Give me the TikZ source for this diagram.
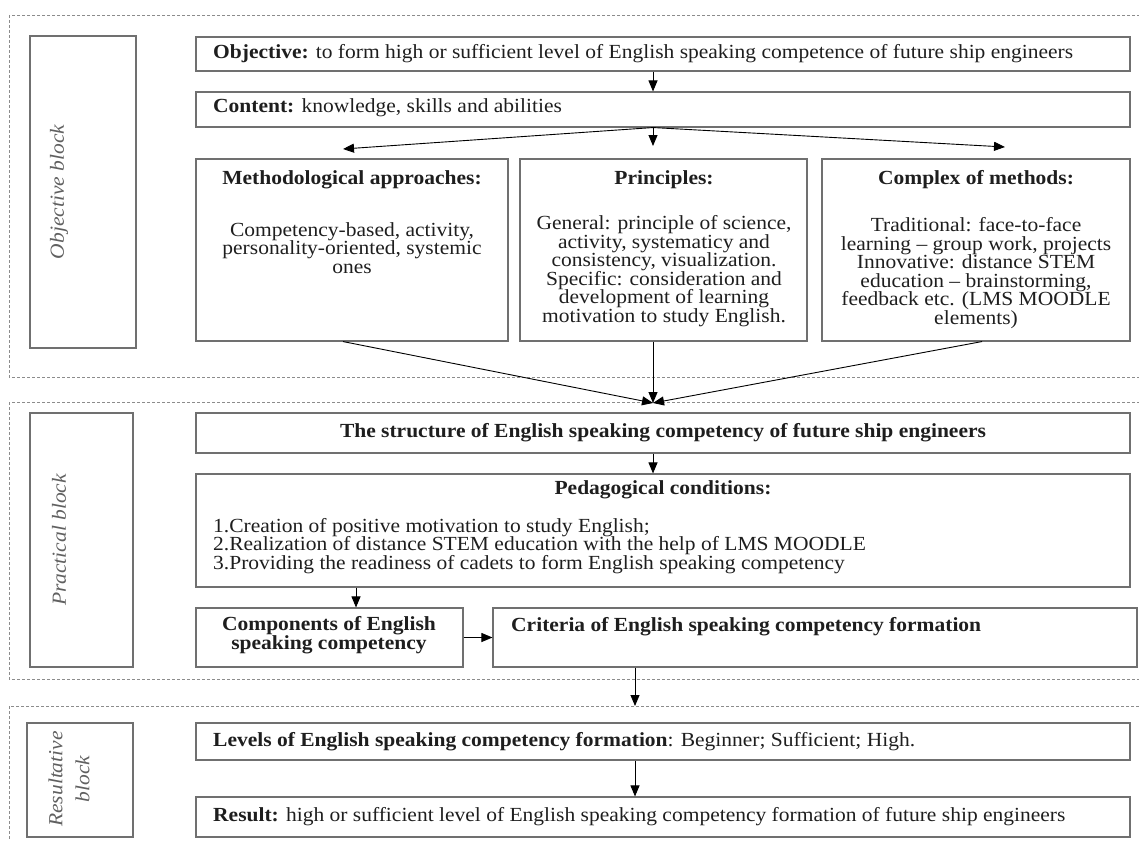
\documentclass[tikz,border=0pt]{standalone}
\usepackage{fontspec}
\setmainfont[FakeStretch=1.075]{Liberation Serif}
\usetikzlibrary{arrows.meta,fit}
\definecolor{bord}{HTML}{707070}
\definecolor{txtc}{HTML}{1E1E1E}
\definecolor{labc}{HTML}{606060}
\begin{document}
\begin{tikzpicture}[x=1pt,y=-1pt,
  box/.style={draw=bord, line width=1.1pt, inner sep=0pt},
  zone/.style={draw=black!45, line width=0.7pt, dash pattern=on 3pt off 2pt},
  txt/.style={inner sep=0pt, text=txtc, font=\fontsize{20}{18.5}\selectfont},
  btxt/.style={txt, font=\fontsize{20}{18.5}\selectfont\bfseries},
  lab/.style={inner sep=0pt, text=labc, font=\fontsize{20}{27}\selectfont\itshape, rotate=90},
  arr/.style={-{Triangle[length=11pt,width=9pt]}, line width=0.9pt, black}]
\useasboundingbox (0,0) rectangle (1139,840);
% zones
\draw[zone] (9,15) rectangle (1150,377);
\draw[zone] (9,402) rectangle (1150,679);
\draw[zone] (9,706) rectangle (1150,860);
% boxes
\node[box, fit={(30,36) (136,348)}] (lab1) {};
\node[box, fit={(196,37) (1130,71)}] (obj) {};
\node[box, fit={(196,92) (1130,127)}] (cont) {};
\node[box, fit={(196,159) (508,341)}] (meth) {};
\node[box, fit={(520,159) (807,341)}] (prin) {};
\node[box, fit={(822,159) (1130,341)}] (comp) {};
\node[box, fit={(30,413) (133,667)}] (lab2) {};
\node[box, fit={(196,413) (1130,453)}] (struct) {};
\node[box, fit={(196,474) (1130,587)}] (ped) {};
\node[box, fit={(196,608) (463,667)}] (compo) {};
\node[box, fit={(493,608) (1137,667)}] (crit) {};
\node[box, fit={(27,723) (133,837)}] (lab3) {};
\node[box, fit={(196,723) (1130,760)}] (lev) {};
\node[box, fit={(196,797) (1130,837)}] (res) {};
% labels
\node[lab] (l1) at (59,192) {Objective block};
\node[lab] (l2) at (59,540) {Practical block};
\node[lab, align=center] (l3) at (69,779) {Resultative\\block};
% texts
\node[txt, anchor=west] (t1) at (213,54) {\textbf{Objective:} to form high or sufficient level of English speaking competence of future ship engineers};
\node[txt, anchor=west] (t2) at (213,108) {\textbf{Content:} knowledge, skills and abilities};
\node[btxt] (t3) at (352,180) {Methodological approaches:};
\node[txt, align=center] (t4) at (352,248) {Competency-based, activity,\\personality-oriented, systemic\\ones};
\node[btxt] (t5) at (664,180) {Principles:};
\node[txt, align=center] (t6) at (664,271) {General: principle of science,\\activity, systematicy and\\consistency, visualization.\\Specific: consideration and\\development of learning\\motivation to study English.};
\node[btxt] (t7) at (976,180) {Complex of methods:};
\node[txt, align=center] (t8) at (976,273) {Traditional: face-to-face\\learning -- group work, projects\\Innovative: distance STEM\\education -- brainstorming,\\feedback etc. (LMS MOODLE\\elements)};
\node[btxt] (t9) at (663,433) {The structure of English speaking competency of future ship engineers};
\node[btxt] (t10) at (663,490) {Pedagogical conditions:};
\node[txt, align=left, anchor=west] (t11) at (213,546) {1.Creation of positive motivation to study English;\\2.Realization of distance STEM education with the help of LMS MOODLE\\3.Providing the readiness of cadets to form English speaking competency};
\node[btxt, align=center] (t12) at (329,635) {Components of English\\speaking competency};
\node[btxt, anchor=west] (t13) at (511,627) {Criteria of English speaking competency formation};
\node[txt, anchor=west] (t14) at (213,742) {\textbf{Levels of English speaking competency formation}: Beginner; Sufficient; High.};
\node[txt, anchor=west] (t15) at (213,817) {\textbf{Result:} high or sufficient level of English speaking competency formation of future ship engineers};
% coordinates
\coordinate (cl) at (343,149);
\coordinate (cm) at (653,146);
\coordinate (cr) at (1005,147);
\coordinate (mg) at (653,403);
\coordinate (d3) at (635,706);
% arrows
\draw[arr] ([xshift=-10pt]obj.south) -- ([xshift=-10pt]cont.north);
\draw[arr] ([xshift=-10pt]cont.south) -- (cl);
\draw[arr] ([xshift=-10pt]cont.south) -- (cm);
\draw[arr] ([xshift=-10pt]cont.south) -- (cr);
\draw[arr] ([xshift=-9pt]meth.south) -- (mg);
\draw[arr] ([xshift=-10.5pt]prin.south) -- (mg);
\draw[arr] ([xshift=6pt]comp.south) -- (mg);
\draw[arr] ([xshift=-10pt]struct.south) -- ([xshift=-10pt]ped.north);
\draw[arr] ([xshift=26.5pt]compo.north |- ped.south) -- ([xshift=26.5pt]compo.north);
\draw[arr] (compo.east) -- (crit.west);
\draw[arr] ([xshift=-180pt]crit.south) -- (d3);
\draw[arr] ([xshift=-28pt]lev.south) -- ([xshift=-28pt]res.north);
\end{tikzpicture}
\end{document}
